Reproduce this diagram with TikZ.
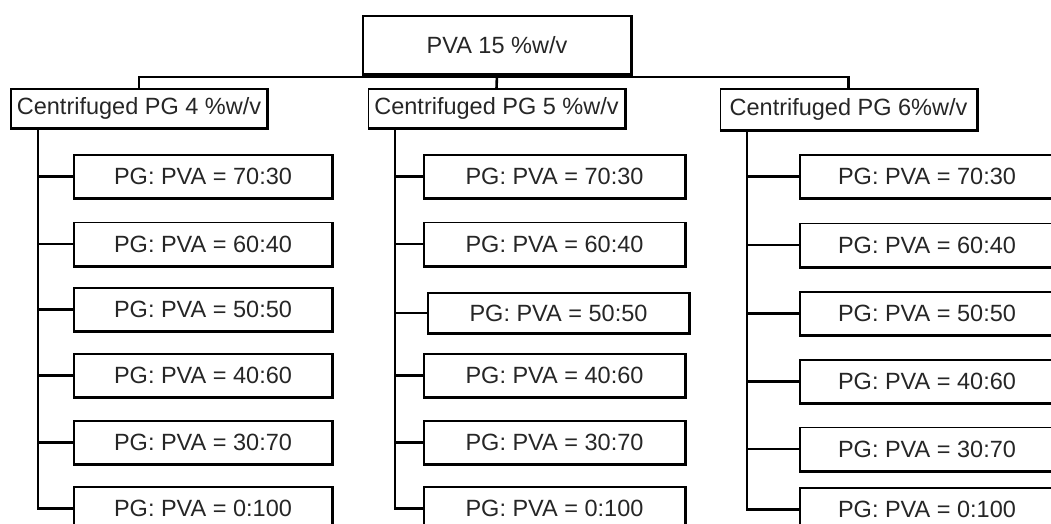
\documentclass[tikz,border=0pt]{standalone}
\usepackage{fontspec}
\setmainfont{Liberation Sans}
\usetikzlibrary{math}

\tikzset{
 box/.style={draw, line width=1.1pt, inner sep=0pt, text=black!85, font=\fontsize{23.5}{28}\selectfont},
 link/.style={line width=2.6pt},
 edge3d/.style={line width=3pt},
}

\begin{document}
\begin{tikzpicture}[x=1pt,y=-1pt]

\tikzmath{
\Wl = 258;% leaf width
\Hl = 43;% leaf height
\Wm = 256;
\Hm = 39;
}

\useasboundingbox (0,0) rectangle (1051,523);
\clip (0,0) rectangle (1051,523);

%top:
\node[box, minimum width=268, minimum height=58] (root) at (497,45) {PVA 15 \%w/v};

%middle row:
\node[box, minimum width=\Wm, minimum height=\Hm] (m1) at (139,108.5) {Centrifuged PG 4 \%w/v};
\node[box, minimum width=\Wm, minimum height=\Hm] (m2) at (496.5,108.5) {Centrifuged PG 5 \%w/v};
\node[box, minimum width=\Wm, minimum height=41] (m3) at (848.5,109.5) {Centrifuged PG 6\%w/v};

\coordinate (bus) at (497,77);
\draw[link] (m1.north) |- (bus) -| (m3.north);
\draw[link] (m2.north) -- (root.south);

%trunks:
\coordinate (t1) at (38,128);
\coordinate (t2) at (395,128);
\coordinate (t3) at (747,130);

\foreach \i/\y/\r in {1/176.5/70:30, 2/244/60:40, 3/309.5/50:50, 4/375.5/40:60, 5/442.5/30:70, 6/508.5/0:100}{
 \node[box, minimum width=\Wl, minimum height=\Hl] (a\i) at (203,\y) {PG: PVA = \r};
 \draw[link] (t1) |- (a\i.west);
 }

\foreach \i/\y/\r in {1/176.5/70:30, 2/244/60:40, 4/375.5/40:60, 5/442.5/30:70, 6/508.5/0:100}{
 \node[box, minimum width=261, minimum height=\Hl] (b\i) at (554.5,\y) {PG: PVA = \r};
 \draw[link] (t2) |- (b\i.west);
 }
\node[box, minimum width=261, minimum height=40] (b3) at (558.5,313) {PG: PVA = 50:50};
\draw[link] (t2) |- (b3.west);

\foreach \i/\y/\r in {1/176.5/70:30, 2/245/60:40, 3/313.5/50:50, 4/381.5/40:60, 5/449/30:70, 6/509.5/0:100}{
 \node[box, minimum width=254, minimum height=\Hl] (c\i) at (927,\y) {PG: PVA = \r};
 \draw[link] (t3) |- (c\i.west);
 }

%thick lower right edges:
\foreach \n in {root,m1,m2,m3,a1,a2,a3,a4,a5,a6,b1,b2,b3,b4,b5,b6,c1,c2,c3,c4,c5,c6}
 \draw[edge3d] (\n.south west) -- (\n.south east) -- (\n.north east);

\end{tikzpicture}
\end{document}
